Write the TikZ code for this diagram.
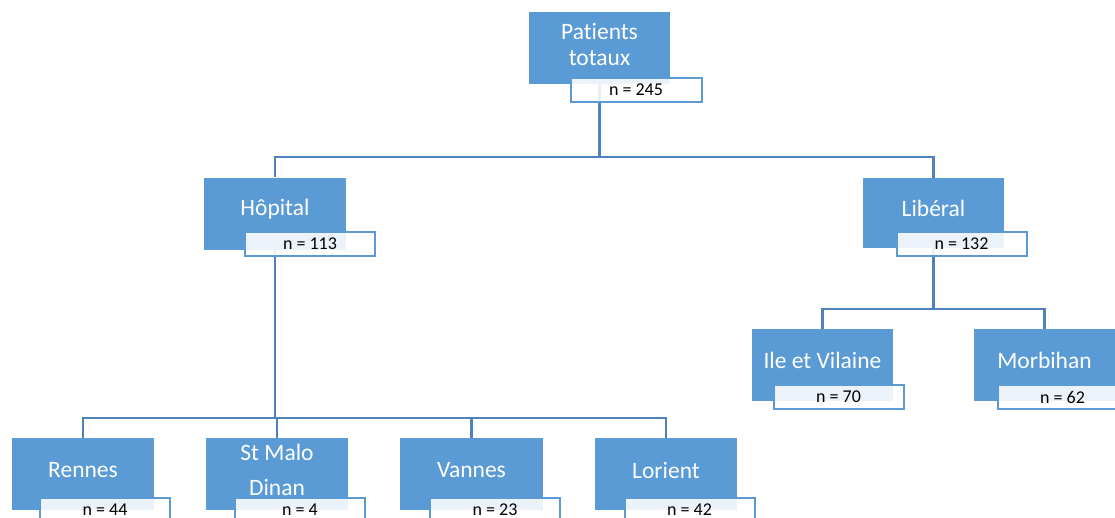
\documentclass[tikz,border=0pt]{standalone}
\usepackage{fontspec}
\setmainfont{Carlito}[Ligatures={NoCommon}]
\definecolor{boxblue}{HTML}{5B9BD5}
\definecolor{linkblue}{HTML}{4F81BD}
\begin{document}
\begin{tikzpicture}[x=1pt,y=-1pt,
  box/.style={rectangle, fill=boxblue, draw=none, minimum width=142pt, minimum height=72pt, inner sep=0pt},
  btxt/.style={text=white, font=\fontsize{23.5}{26}\selectfont, align=center, inner sep=0pt},
  lab/.style={rectangle, draw=boxblue, line width=2pt, fill=white, fill opacity=0.88, text opacity=1, text=black,
    minimum width=130pt, minimum height=24pt, inner sep=0pt, font=\fontsize{18}{18}\selectfont},
  conn/.style={draw=linkblue, line width=2.8pt}]
\useasboundingbox (0,0) rectangle (1115,517);
\clip (0,0) rectangle (1115,517);
% top
\node[box, minimum width=141pt] (p) at (599.5,48) {};
\node[btxt] (pt) at (599.5,44) {Patients\\totaux};
% level 1
\node[box] (hop) at (275,213.5) {};
\node[btxt] (hopt) at (275,209) {Hôpital};
\node[box, minimum width=141pt, minimum height=70pt] (lib) at (933.5,213) {};
\node[btxt] (libt) at (933.5,208.5) {Libéral};
% level 2 right
\node[box, minimum width=141pt] (ile) at (822.5,365) {};
\node[btxt] (ilet) at (822.5,360) {Ile et Vilaine};
\node[box, minimum width=141pt] (mor) at (1044.5,365) {};
\node[btxt] (mort) at (1044.5,360) {Morbihan};
% level 2 left
\node[box] (ren) at (83,474) {};
\node[btxt] (rent) at (83,470) {Rennes};
\node[box] (stm) at (277,474) {};
\node[btxt, font=\fontsize{23.5}{35}\selectfont] (stmt) at (277,469.5) {St Malo\\Dinan};
\node[box, minimum width=143pt] (van) at (471.5,474) {};
\node[btxt] (vant) at (471.5,470) {Vannes};
\node[box] (lor) at (666,474) {};
\node[btxt] (lort) at (666,470) {Lorient};
% connectors
\coordinate (j0) at (599.5,157);
\coordinate (j1) at (275,418);
\coordinate (j2) at (933.5,309);
\draw[conn] (p.south) -- (j0);
\draw[conn] (j0) -| (hop.north);
\draw[conn] (j0) -| (lib.north);
\draw[conn] (hop.south) -- (j1);
\draw[conn] (j1) -| (ren.north);
\draw[conn] (j1) -| (stm.north);
\draw[conn] (j1) -| (van.north);
\draw[conn] (j1) -| (lor.north);
\draw[conn] (lib.south) -- (j2);
\draw[conn] (j2) -| (ile.north);
\draw[conn] (j2) -| (mor.north);
% labels
\node[lab, minimum width=131pt] (pl) at (636,89.5) {n = 245};
\node[lab] (hopl) at (310,244) {n = 113};
\node[lab] (libl) at (961.5,243.5) {n = 132};
\node[lab] (ilel) at (838.5,397) {n = 70};
\node[lab] (morl) at (1062.5,397) {n = 62};
\node[lab] (renl) at (105,509.5) {n = 44};
\node[lab] (stml) at (300,509.5) {n = 4};
\node[lab] (vanl) at (495,509.5) {n = 23};
\node[lab] (lorl) at (689.5,509.5) {n = 42};
\end{tikzpicture}
\end{document}
